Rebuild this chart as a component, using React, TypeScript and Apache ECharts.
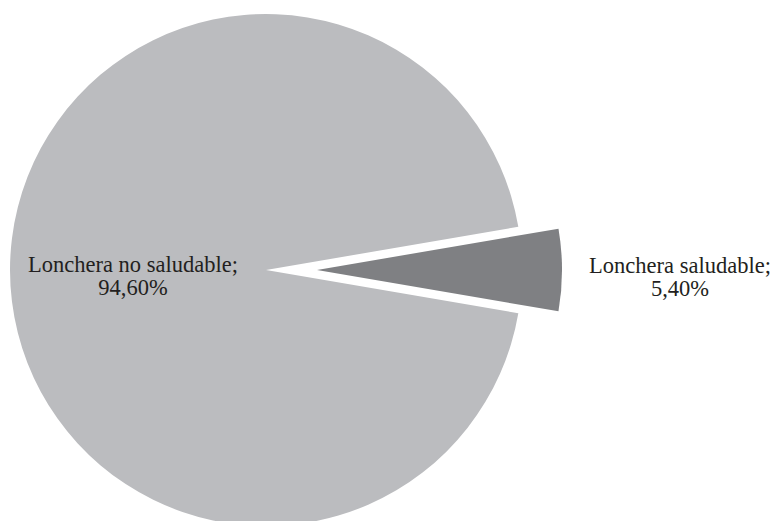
import React, { useEffect, useRef } from "react";
import * as echarts from "echarts";

const categories = ["Lonchera no saludable", "Lonchera saludable"];
const values = [94.6, 5.4];
const colors = ["#bbbcbf", "#7f8083"];

const fmt = (p: any) =>
  `${p.name};\n${Number(p.value).toFixed(2).replace(".", ",")}%`;

export default function App() {
  const ref = useRef<HTMLDivElement>(null);
  useEffect(() => {
    document.body.style.margin = "0";
    const chart = echarts.init(ref.current!, null, { renderer: "svg" });
    const total = values.reduce((a, b) => a + b, 0);
    const startAngle = -((values[1] / total) * 360) / 2;
    const labelStyle = {
      fontFamily: "'Liberation Serif', 'DejaVu Serif', serif",
      fontSize: 22.5,
      lineHeight: 23,
      color: "#231f20",
      align: "center" as const,
    };
    chart.setOption({
      animation: false,
      backgroundColor: "#ffffff",
      series: [
        {
          type: "pie",
          center: [266, 270],
          radius: 256,
          startAngle,
          clockwise: true,
          silent: true,
          avoidLabelOverlap: false,
          label: { show: true, position: "inside", formatter: fmt, ...labelStyle },
          labelLine: { show: false },
          labelLayout: { dx: -2, dy: 6 },
          data: categories.map((c, i) => ({
            name: c,
            value: values[i],
            itemStyle: { color: i === 0 ? colors[0] : "transparent" },
            label: { show: i === 0 },
          })),
        },
        {
          type: "pie",
          center: [317, 270],
          radius: 245,
          startAngle,
          clockwise: true,
          silent: true,
          avoidLabelOverlap: false,
          label: { show: true, position: "outside", formatter: fmt, ...labelStyle },
          labelLine: { show: false },
          labelLayout: { x: 680, y: 277, align: "center", verticalAlign: "middle" },
          data: categories.map((c, i) => ({
            name: c,
            value: values[i],
            itemStyle: { color: i === 1 ? colors[1] : "transparent" },
            label: { show: i === 1 },
          })),
        },
      ],
    });
    return () => chart.dispose();
  }, []);
  return <div ref={ref} style={{ width: 773, height: 521 }} />;
}
